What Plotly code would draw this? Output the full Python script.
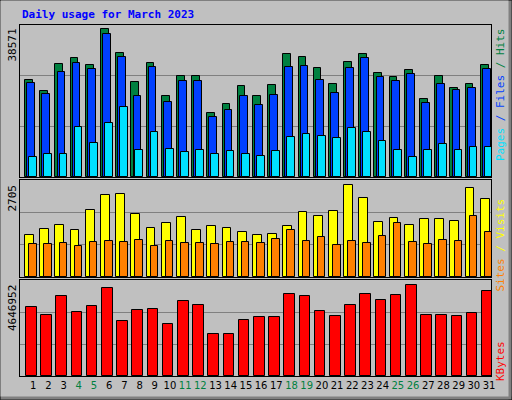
import plotly.graph_objects as go

days = list(range(1, 32))
hits = [25189,22303,29474,30961,29124,38571,32273,24664,29649,20990,26238,26238,16792,19154,23614,20990,23877,32010,31223,28337,24139,29911,32010,27025,25976,27812,20203,26238,23089,24139,29124]
files = [24401,21515,27288,29649,28075,37258,31223,20990,28599,19679,24926,24926,15743,17579,20990,18891,21253,28599,28862,25189,21778,28337,30961,25976,24926,26763,19416,24139,22565,23089,28075]
pages = [5248,6035,6035,13119,8921,14169,18367,7084,11807,7347,6560,7084,6035,6822,6035,5510,6822,10495,11282,10758,10233,12857,11807,9446,7084,5248,7084,8659,7084,7871,7871]
visits = [1230,1407,1525,1377,1967,2410,2439,1849,1436,1584,1761,1377,1495,1436,1318,1230,1259,1495,1908,1790,1938,2705,2321,1613,1731,1525,1702,1702,1643,2616,2292]
sites = [964,964,993,905,1023,1052,1023,1082,905,1052,993,993,964,1023,1023,993,1111,1377,1052,1170,934,1052,993,1200,1584,1023,964,1082,1052,1790,1318]
kbytes = [3527000,3120000,4087000,3273000,3578000,4494000,2815000,3375000,3426000,2663000,3833000,3629000,2154000,2154000,2866000,3019000,3019000,4189000,4087000,3324000,3070000,3629000,4189000,3884000,4138000,4646952,3120000,3120000,3070000,3222000,4342000]
weekend = {4,5,11,12,18,19,25,26}
tick_labels = [f"<span style='color:#008040'>{d}</span>" if d in weekend else str(d) for d in days]

W, H = 512, 400
def px(x): return x / W
def py(y): return 1 - y / H

fig = go.Figure()
line = dict(color="black", width=1)
def bar(y, color, off, wid, xa, ya):
    fig.add_trace(go.Bar(x=days, y=y, marker=dict(color=color, line=line),
                         offset=off, width=wid, xaxis=xa, yaxis=ya, showlegend=False,
                         hoverinfo="skip"))

bar(hits, "#008040", -0.54, 0.51, "x", "y")
bar(files, "#0040FF", -0.40, 0.51, "x", "y")
bar(pages, "#00E0FF", -0.27, 0.51, "x", "y")
bar(visits, "#FFFF00", -0.54, 0.58, "x2", "y2")
bar(sites, "#FF8000", -0.27, 0.50, "x2", "y2")
bar(kbytes, "#FF0000", -0.47, 0.70, "x3", "y3")

xdom = [px(20), px(491)]
xr = [0.13, 31.13]
common_x = dict(range=xr, domain=xdom, showgrid=False, zeroline=False,
                showline=True, linecolor="black", mirror=True, ticks="", fixedrange=True)
fig.update_layout(
    width=W, height=H, margin=dict(l=0, r=0, t=0, b=0, autoexpand=False),
    paper_bgcolor="#C0C0C0", plot_bgcolor="#C0C0C0",
    barmode="overlay", bargap=0,
    xaxis=dict(**common_x, anchor="y", showticklabels=False),
    xaxis2=dict(**common_x, anchor="y2", showticklabels=False),
    xaxis3=dict(**common_x, anchor="y3", showticklabels=True, tickvals=days, tickangle=0,
                ticktext=tick_labels, tickfont=dict(family="DejaVu Sans", size=10, color="black"),
                automargin=False),
)
def yax(dom, rmax):
    return dict(domain=dom, range=[0, rmax], tickvals=[rmax/3, 2*rmax/3], showticklabels=False,
                showgrid=True, gridcolor="#808080", gridwidth=1, zeroline=False,
                showline=True, linecolor="black", mirror=True, ticks="", fixedrange=True)
fig.update_layout(
    yaxis=dict(**yax([py(177), py(25)], 38571*151/147), anchor="x"),
    yaxis2=dict(**yax([py(277), py(180)], 2705*97/92), anchor="x2"),
    yaxis3=dict(**yax([py(376), py(280)], 4646952*96/91.5), anchor="x3"),
)

mono = "DejaVu Sans Mono"
ann = [
    dict(x=px(20), y=py(15), text="<b>Daily usage for March 2023</b>", xanchor="left", yanchor="middle",
         font=dict(family=mono, size=11, color="#0000FF")),
    dict(x=px(12), y=py(27), text="38571", textangle=-90, xanchor="center", yanchor="top",
         font=dict(family=mono, size=11, color="black")),
    dict(x=px(12), y=py(183), text="2705", textangle=-90, xanchor="center", yanchor="top",
         font=dict(family=mono, size=11, color="black")),
    dict(x=px(12), y=py(283), text="4646952", textangle=-90, xanchor="center", yanchor="top",
         font=dict(family=mono, size=11, color="black")),
    dict(x=px(500), y=py(27), textangle=-90, xanchor="center", yanchor="top",
         text="<span style='color:#00E0FF'>Pages</span><span style='color:#0040FF'> / Files</span><span style='color:#008040'> / Hits</span>",
         font=dict(family=mono, size=11)),
    dict(x=px(500), y=py(197), textangle=-90, xanchor="center", yanchor="top",
         text="<span style='color:#FF8000'>Sites</span><span style='color:#FFFF00'> / Visits</span>",
         font=dict(family=mono, size=11)),
    dict(x=px(500), y=py(339), textangle=-90, xanchor="center", yanchor="top",
         text="KBytes", font=dict(family=mono, size=11, color="#FF0000")),
]
for a in ann:
    a.update(xref="paper", yref="paper", showarrow=False)
fig.update_layout(annotations=ann)

fig.update_layout(shapes=[
    dict(type="line", xref="paper", yref="paper", x0=0, x1=1, y0=1, y1=1, line=dict(color="white", width=2)),
    dict(type="line", xref="paper", yref="paper", x0=0, x1=0, y0=0, y1=1, line=dict(color="white", width=2)),
    dict(type="line", xref="paper", yref="paper", x0=0, x1=1, y0=py(398), y1=py(398), line=dict(color="#808080", width=3)),
    dict(type="line", xref="paper", yref="paper", x0=px(510), x1=px(510), y0=0, y1=1, line=dict(color="#808080", width=3)),
    dict(type="rect", xref="paper", yref="paper", x0=0, x1=1, y0=0, y1=1, line=dict(color="black", width=1)),
])

fig.write_html("out.html", config={"displayModeBar": False},
               post_script="document.body.style.margin='0';document.body.style.overflow='hidden';")
